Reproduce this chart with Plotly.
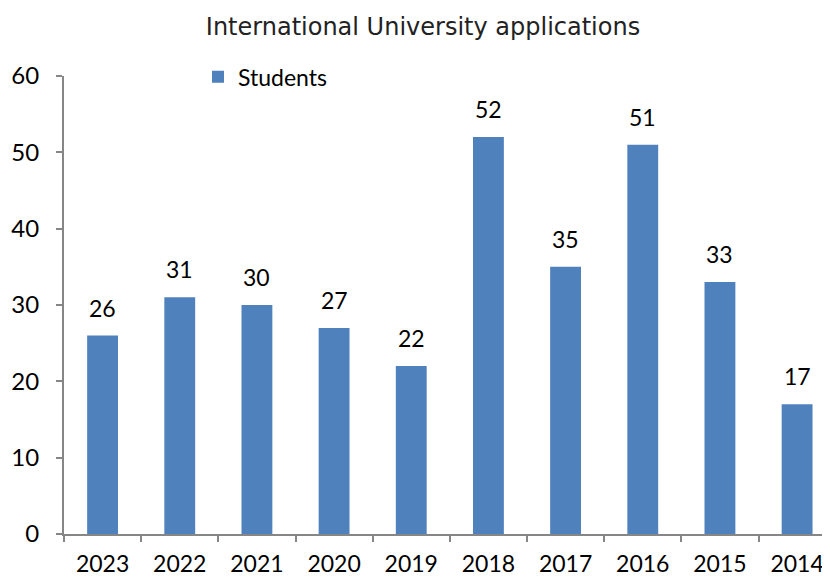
import plotly.graph_objects as go

years = ["2023", "2022", "2021", "2020", "2019", "2018", "2017", "2016", "2015", "2014"]
students = [26, 31, 30, 27, 22, 52, 35, 51, 33, 17]
y_ticks = [0, 10, 20, 30, 40, 50, 60]

FONT = "Lato, Carlito, Calibri, sans-serif"

fig = go.Figure()
fig.add_trace(go.Bar(
    x=years, y=students, name="Students",
    marker=dict(color="#4F81BD", line=dict(width=0)),
    width=0.4, showlegend=True,
))

for i, v in enumerate(students):
    fig.add_annotation(x=i, y=v, text=str(v), showarrow=False,
                       xref="x", yref="y",
                       yanchor="bottom", yshift=12,
                       font=dict(family=FONT, size=23, color="#000000"))

fig.update_layout(
    width=830, height=578,
    margin=dict(l=56, r=0, t=68, b=52, autoexpand=False),
    paper_bgcolor="white", plot_bgcolor="white",
    title=dict(text="International University applications", x=0.5, xanchor="center",
               y=1 - 19 / 578, yanchor="middle",
               font=dict(family="DejaVu Sans, sans-serif", size=24, color="#222222")),
    showlegend=True,
    legend=dict(x=(198 - 64) / 774, y=1.045, xanchor="left", yanchor="top",
                bgcolor="rgba(0,0,0,0)", font=dict(family=FONT, size=23, color="#000"),
                itemwidth=30, traceorder="normal"),
    bargap=0.6,
)
fig.update_xaxes(
    type="category", range=[-0.5, 9.53],
    showline=True, linecolor="#868686", linewidth=2,
    ticks="outside", tickson="boundaries", ticklen=6, tickcolor="#868686", tickwidth=2,
    showgrid=False, ticklabelstandoff=8,
    tickfont=dict(family=FONT, size=23, color="#000"),
)
fig.update_yaxes(
    range=[0, 60], tickvals=y_ticks,
    showline=True, linecolor="#868686", linewidth=2,
    ticks="outside", ticklen=6, tickcolor="#868686", tickwidth=2,
    showgrid=False, zeroline=False, ticklabelstandoff=12,
    tickfont=dict(family=FONT, size=24, color="#000"),
)

fig.write_html("out.html")
